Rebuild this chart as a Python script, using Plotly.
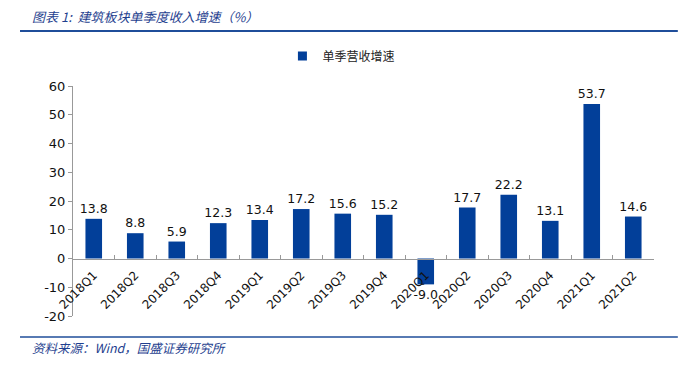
import plotly.graph_objects as go

categories = ["2018Q1", "2018Q2", "2018Q3", "2018Q4", "2019Q1", "2019Q2", "2019Q3",
              "2019Q4", "2020Q1", "2020Q2", "2020Q3", "2020Q4", "2021Q1", "2021Q2"]
growth = [13.8, 8.8, 5.9, 12.3, 13.4, 17.2, 15.6, 15.2, -9.0, 17.7, 22.2, 13.1, 53.7, 14.6]
y_ticks = [-20, -10, 0, 10, 20, 30, 40, 50, 60]
y_tick_text = ["-20", "-10", "0", "10", "20", "30", "40", "50", "60"]

BAR = "#023F99"
TXT_FONT = "DejaVu Sans"
CJK = "Noto Sans CJK SC"

fig = go.Figure()
fig.add_trace(go.Bar(
    x=categories, y=growth, name="单季营收增速", showlegend=False,
    marker=dict(color=BAR, line=dict(width=0)),
    width=0.4,
    text=[f"{v:.1f}" for v in growth],
    textposition="outside",
    constraintext="none",
    textfont=dict(family=TXT_FONT, size=12.5, color="#111"),
    cliponaxis=False,
))
fig.add_trace(go.Scatter(
    x=[None], y=[None], mode="markers", name="单季营收增速",
    marker=dict(symbol="square", size=9, color=BAR),
))

fig.update_layout(
    width=678, height=365,
    margin=dict(l=73, r=24, t=86, b=49, autoexpand=False),
    paper_bgcolor="white", plot_bgcolor="white",
    showlegend=True,
    legend=dict(orientation="h", x=0.462, xanchor="center", y=1.13, yanchor="middle",
                font=dict(family=CJK, size=12, color="#222"),
                itemwidth=30, itemsizing="trace"),
    xaxis=dict(
        type="category", anchor="free", position=0.25, automargin=False,
        showline=True, linecolor="#999", linewidth=1,
        ticks="inside", tickson="boundaries", ticklen=4, tickcolor="#999",
        tickangle=-45, tickfont=dict(family=TXT_FONT, size=12, color="#111"),
        ticklabelstandoff=4,
        showgrid=False, zeroline=False,
    ),
    yaxis=dict(
        range=[-20, 60], tickvals=y_ticks, ticktext=y_tick_text, domain=[0, 1],
        automargin=False,
        showline=True, linecolor="#999", linewidth=1,
        ticks="outside", ticklen=4, tickcolor="#999",
        tickfont=dict(family=TXT_FONT, size=13, color="#111"),
        showgrid=False, zeroline=False,
    ),
    bargap=0.6,
)

fig.add_annotation(text="图表 1:  建筑板块单季度收入增速（%）", xref="paper", yref="paper",
                   x=-0.074, y=1.304, xanchor="left", yanchor="middle", showarrow=False,
                   font=dict(family=CJK, size=13, color="#1F3F8F", style="italic"))
fig.add_annotation(text="资料来源：Wind，国盛证券研究所", xref="paper", yref="paper",
                   x=-0.074, y=-0.135, xanchor="left", yanchor="middle", showarrow=False,
                   font=dict(family=CJK, size=12.5, color="#1F3F8F", style="italic"))
fig.add_shape(type="line", xref="paper", yref="paper", x0=-0.0912, x1=1.041, y0=1.239, y1=1.239,
              line=dict(color="#1F4E9A", width=2))
fig.add_shape(type="line", xref="paper", yref="paper", x0=-0.0912, x1=1.041, y0=-0.0913, y1=-0.0913,
              line=dict(color="#1F4E9A", width=1.5))

fig.write_html("out.html", config={"displayModeBar": False},
               post_script="document.body.style.margin='0';document.body.style.overflow='hidden';")
